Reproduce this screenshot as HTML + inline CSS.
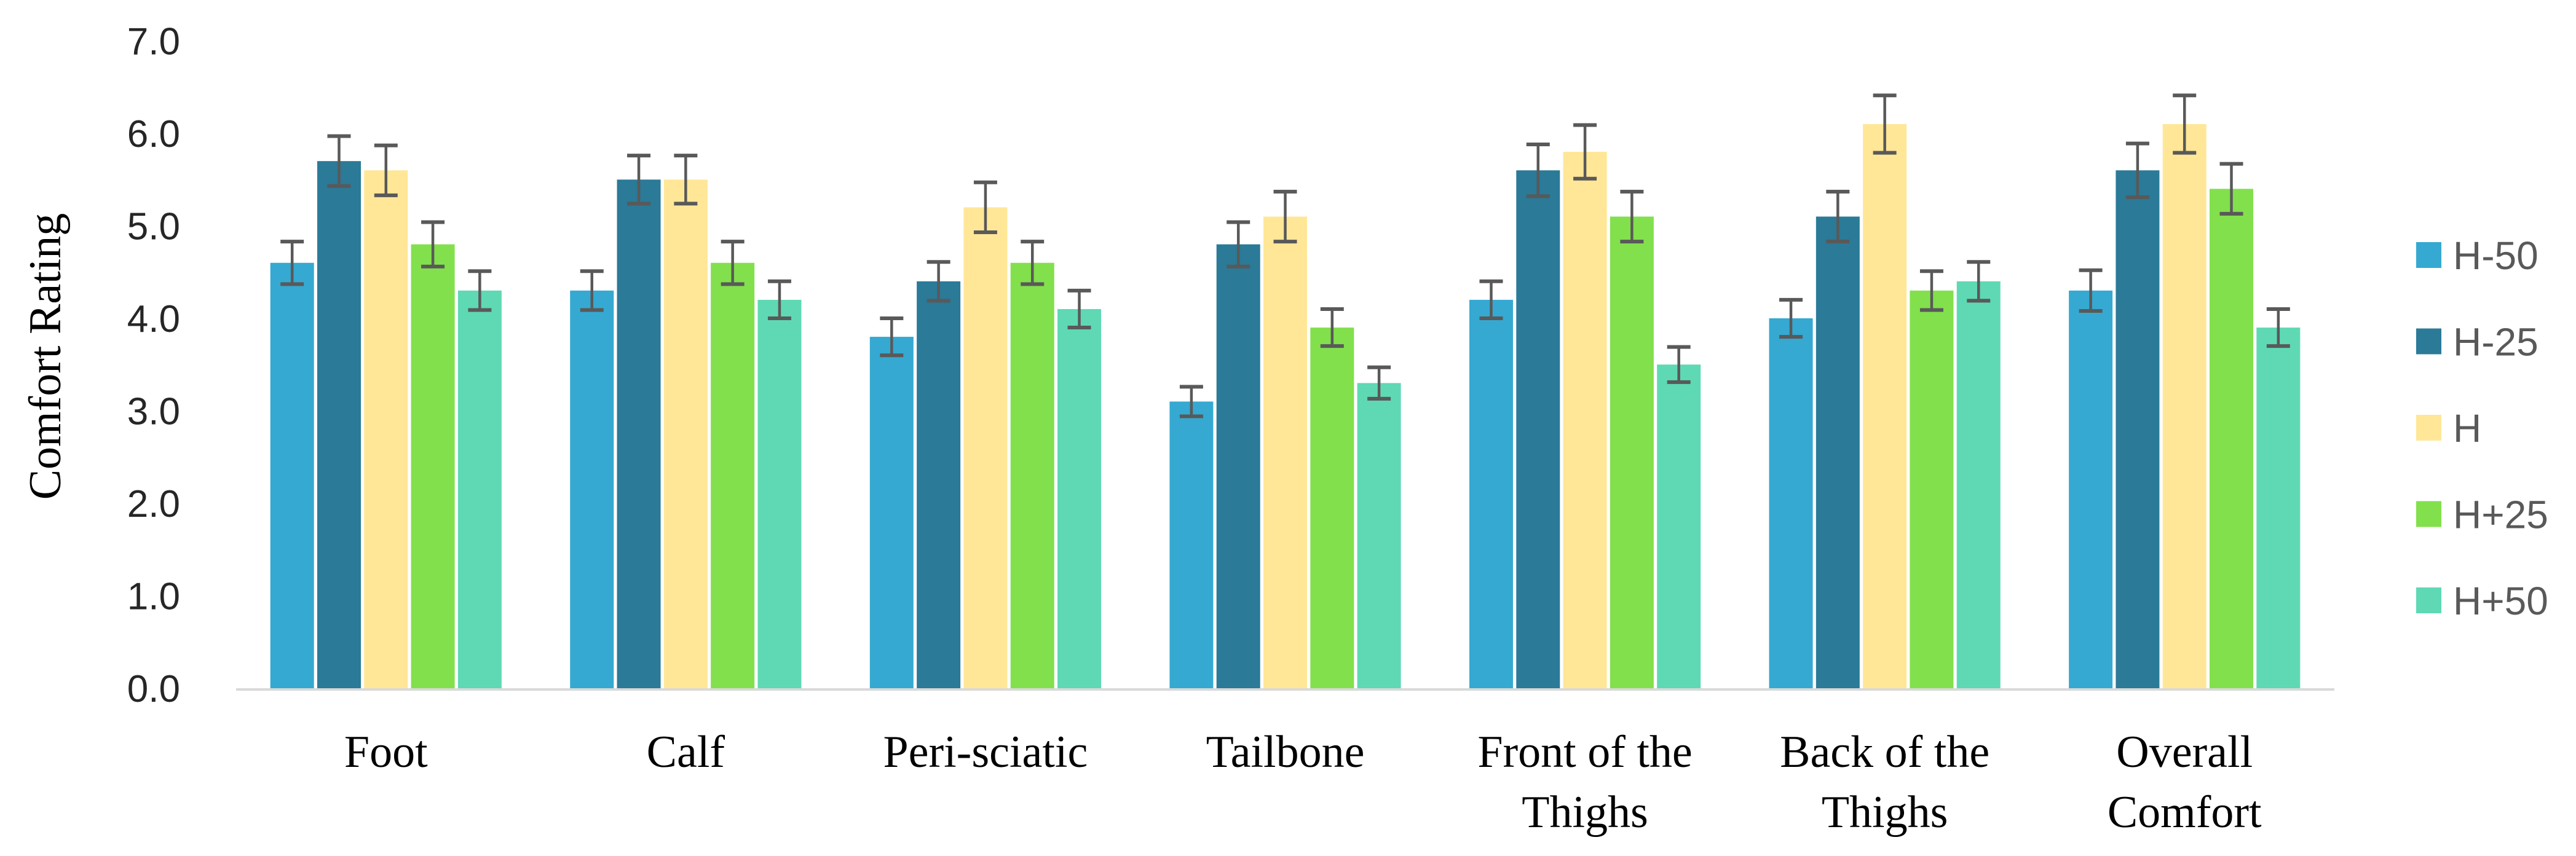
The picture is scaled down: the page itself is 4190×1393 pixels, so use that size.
<!DOCTYPE html>
<html><head><meta charset="utf-8">
<style>
html,body{margin:0;padding:0;background:#fff;}
svg{display:block;}
</style></head>
<body>
<svg id="chart" width="4190" height="1393" viewBox="0 0 4190 1393" xmlns="http://www.w3.org/2000/svg">
  <rect x="0" y="0" width="4190" height="1393" fill="#ffffff"/>
  <g id="yticks"></g>
  <g id="bars"></g>
  <line x1="384" y1="1122" x2="3797" y2="1122" stroke="#d9d9d9" stroke-width="4"/>
  <g id="errs"></g>
  <g id="xlabels"></g>
  <text x="0" y="0" transform="translate(98,580) rotate(-90)" text-anchor="middle" font-family="'Liberation Serif', serif" font-size="74" fill="#000">Comfort Rating</text>
  <g id="legend"></g>
</svg>
<script>
const categories = [["Foot"],["Calf"],["Peri-sciatic"],["Tailbone"],["Front of the","Thighs"],["Back of the","Thighs"],["Overall","Comfort"]];
const seriesNames = ["H-50","H-25","H","H+25","H+50"];
const seriesColors = ["#35a9d1","#2a7a98","#ffe797","#82e04c","#5ed9b4"];
const valsH50 = [4.6,4.3,3.8,3.1,4.2,4.0,4.3];
const valsH25 = [5.7,5.5,4.4,4.8,5.6,5.1,5.6];
const valsH   = [5.6,5.5,5.2,5.1,5.8,6.1,6.1];
const valsH25p = [4.8,4.6,4.6,3.9,5.1,4.3,5.4];
const valsH50p = [4.3,4.2,4.1,3.3,3.5,4.4,3.9];
const errH50 = [0.23,0.21,0.20,0.16,0.20,0.20,0.22];
const errH25 = [0.27,0.26,0.21,0.24,0.28,0.27,0.29];
const errH   = [0.27,0.26,0.27,0.27,0.29,0.31,0.31];
const errH25p = [0.24,0.23,0.23,0.20,0.27,0.21,0.27];
const errH50p = [0.21,0.20,0.20,0.17,0.19,0.21,0.20];
const yTicks = ["0.0","1.0","2.0","3.0","4.0","5.0","6.0","7.0"];

const NS = "http://www.w3.org/2000/svg";
const series = [valsH50, valsH25, valsH, valsH25p, valsH50p];
const errs = [errH50, errH25, errH, errH25p, errH50p];
const plotL = 384, plotR = 3797, y0 = 1120, unit = 150.5;
const band = (plotR - plotL) / categories.length;
const step = 76.3, barW = 71;
function yScale(v){ return y0 - v * unit; }
function xCenter(i){ return plotL + band * (i + 0.5); }
function mk(tag, attrs){ const e = document.createElementNS(NS, tag); for (const k in attrs) e.setAttribute(k, attrs[k]); return e; }

const gT = document.getElementById('yticks');
yTicks.forEach((t) => {
  const e = mk('text', {x: 293, y: yScale(parseFloat(t)) + 22, 'text-anchor': 'end', 'font-family': "'Liberation Sans', sans-serif", 'font-size': 62, fill: '#262626'});
  
  
  e.textContent = t;
  gT.appendChild(e);
});

const gB = document.getElementById('bars');
const gE = document.getElementById('errs');
categories.forEach((c, i) => {
  const cx = xCenter(i);
  series.forEach((vals, s) => {
    const bx = cx + (s - 2) * step - barW / 2;
    const top = yScale(vals[i]);
    const r = mk('rect', {x: bx, y: top, width: barW, height: y0 - top, fill: seriesColors[s]});
    
    
    gB.appendChild(r);
    const ex = bx + barW / 2;
    const e1 = yScale(vals[i] + errs[s][i]), e2 = yScale(vals[i] - errs[s][i]);
    const g = mk('g', {stroke: '#595959'});
    
    
    g.appendChild(mk('line', {x1: ex, y1: e1, x2: ex, y2: e2, 'stroke-width': 4.5}));
    g.appendChild(mk('line', {x1: ex - 19, y1: e1, x2: ex + 19, y2: e1, 'stroke-width': 6}));
    g.appendChild(mk('line', {x1: ex - 19, y1: e2, x2: ex + 19, y2: e2, 'stroke-width': 6}));
    gE.appendChild(g);
  });
});

const gX = document.getElementById('xlabels');
categories.forEach((c, i) => {
  c.forEach((line, j) => {
    const t = mk('text', {x: xCenter(i), y: 1248 + j * 98, 'text-anchor': 'middle', 'font-family': "'Liberation Serif', serif", 'font-size': 74, fill: '#000'});
    
    
    t.textContent = line;
    gX.appendChild(t);
  });
});

const gL = document.getElementById('legend');
seriesNames.forEach((n, s) => {
  const cy = 415 + s * 140.5;
  const g = mk('g', {});
  
  
  g.appendChild(mk('rect', {x: 3930, y: cy - 21, width: 41, height: 42, fill: seriesColors[s]}));
  const t = mk('text', {x: 3990, y: cy + 23, 'font-family': "'Liberation Sans', sans-serif", 'font-size': 64, fill: '#595959'});
  t.textContent = n;
  g.appendChild(t);
  gL.appendChild(g);
});
</script>
</body></html>
